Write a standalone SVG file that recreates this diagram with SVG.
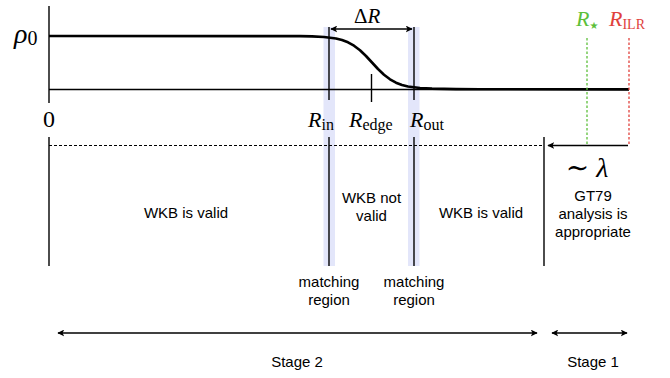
<svg xmlns="http://www.w3.org/2000/svg" width="670" height="378" viewBox="0 0 670 378">
<defs>
<marker id="ah" viewBox="0 0 10 10" refX="9" refY="5" markerWidth="7" markerHeight="7" markerUnits="userSpaceOnUse" orient="auto-start-reverse">
<path d="M0,0 L10,5 L0,10 L2.5,5 Z" fill="#000"/>
</marker>
</defs>
<style>
.ln{stroke:#000;stroke-width:1.4;fill:none}
.band{fill:#e3e6fa}
.m{font-family:"Liberation Serif","DejaVu Serif",serif;fill:#000}
.it{font-style:italic}
.t{font-family:"Liberation Sans",Arial,sans-serif;font-size:15px;fill:#000;text-anchor:middle}
</style>
<rect width="670" height="378" fill="#fff"/>
<g id="bands">
<rect class="band" x="323.5" y="27" width="11.5" height="239"/>
<rect class="band" x="408" y="27" width="11.5" height="239"/>
</g>
<g id="axes">
<line class="ln" x1="49" y1="6" x2="49" y2="103"/>
<line class="ln" x1="49" y1="89.5" x2="629" y2="89.5"/>
<line class="ln" x1="329" y1="27" x2="329" y2="100"/>
<line class="ln" x1="414" y1="27" x2="414" y2="100"/>
<line class="ln" x1="371.5" y1="74" x2="371.5" y2="102"/>
</g>
<g id="profile">
<polyline fill="none" stroke="#000" stroke-width="2.6" stroke-linejoin="round" points="49,36 300,36.1 312,36.35 324,36.95 336,38.5 342,40 348,42.3 354,45.7 360,50.25 366,56 372,62.5 378,69 384,74.75 390,79.3 396,82.7 402,85 408,86.5 420,88.05 432,88.65 456,89.1 480,89.3 629,89.4"/>
</g>
<g id="connectors">
<line class="ln" x1="331" y1="29" x2="412" y2="29" marker-start="url(#ah)" marker-end="url(#ah)"/>
<line x1="587" y1="38" x2="587" y2="145" stroke="#5cbf3a" stroke-width="1.3" stroke-dasharray="2.5,2"/>
<line x1="629" y1="38" x2="629" y2="145" stroke="#e0413c" stroke-width="1.3" stroke-dasharray="2.5,2"/>
<line x1="49" y1="145.5" x2="544" y2="145.5" stroke="#000" stroke-width="1.2" stroke-dasharray="3,2"/>
<line class="ln" x1="628" y1="145.5" x2="548" y2="145.5" marker-end="url(#ah)"/>
<line class="ln" x1="49" y1="137" x2="49" y2="266"/>
<line class="ln" x1="329" y1="137" x2="329" y2="266"/>
<line class="ln" x1="414" y1="137" x2="414" y2="266"/>
<line class="ln" x1="544" y1="137" x2="544" y2="266"/>
<line class="ln" x1="58" y1="333" x2="537" y2="333" marker-start="url(#ah)" marker-end="url(#ah)"/>
<line class="ln" x1="552" y1="333" x2="627" y2="333" marker-start="url(#ah)" marker-end="url(#ah)"/>
</g>
<g id="math-labels">
<text class="m" x="14" y="43" font-size="28"><tspan class="it">ρ</tspan><tspan font-size="20" dy="2">0</tspan></text>
<text class="m" x="49" y="127" font-size="24" text-anchor="middle">0</text>
<text class="m" x="354" y="23" font-size="21">Δ<tspan class="it">R</tspan></text>
<text class="m" x="308" y="127" font-size="22"><tspan class="it">R</tspan><tspan font-size="16" dy="3">in</tspan></text>
<text class="m" x="349" y="127" font-size="22"><tspan class="it">R</tspan><tspan font-size="16" dy="3">edge</tspan></text>
<text class="m" x="410" y="127" font-size="22"><tspan class="it">R</tspan><tspan font-size="16" dy="3">out</tspan></text>
<text class="m" x="576" y="26" font-size="22" style="fill:#5cbf3a"><tspan class="it">R</tspan><tspan font-size="10" dy="3" font-family="DejaVu Sans">★</tspan></text>
<text class="m" x="609" y="26" font-size="22" style="fill:#e0413c"><tspan class="it">R</tspan><tspan font-size="14" dy="3">ILR</tspan></text>
<text class="m" x="587" y="177" font-size="28" text-anchor="middle">∼ <tspan class="it">λ</tspan></text>
</g>
<g id="region-labels">
<text class="t" x="186" y="218">WKB is valid</text>
<text class="t" x="371.5" y="203">WKB not</text>
<text class="t" x="371.5" y="221">valid</text>
<text class="t" x="481" y="218">WKB is valid</text>
<text class="t" x="593" y="201">GT79</text>
<text class="t" x="593" y="219">analysis is</text>
<text class="t" x="593" y="237">appropriate</text>
<text class="t" x="329" y="287">matching</text>
<text class="t" x="329" y="305">region</text>
<text class="t" x="414" y="287">matching</text>
<text class="t" x="414" y="305">region</text>
<text class="t" x="297" y="367">Stage 2</text>
<text class="t" x="593" y="367">Stage 1</text>
</g>
</svg>
